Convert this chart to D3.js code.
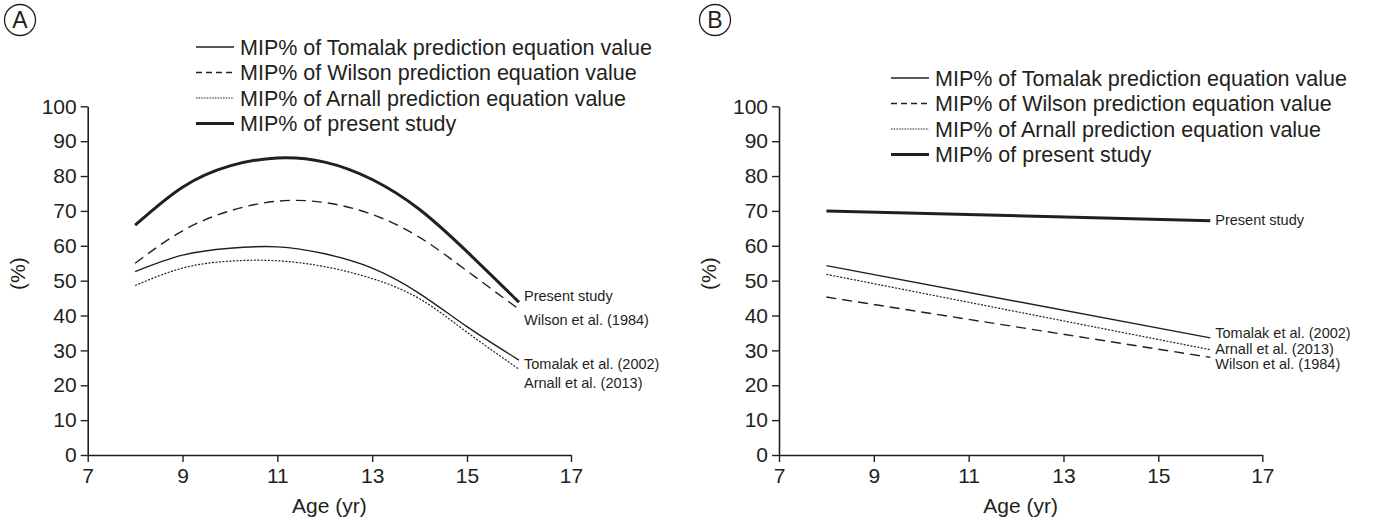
<!DOCTYPE html>
<html>
<head>
<meta charset="utf-8">
<script src="https://cdn.jsdelivr.net/npm/d3@7.9.0/dist/d3.min.js"></script>
<style>
  body { margin: 0; background: #fff; }
  svg text { font-family: "Liberation Sans", Arial, sans-serif; fill: #231f20; }
</style>
</head>
<body>
<svg id="chart" width="1378" height="526"></svg>
<script>
// ---- data ----
const agesA = [8, 9, 10, 11, 12, 13, 14, 15, 16];
const tomalakA = [52.6, 57.3, 59.3, 59.7, 57.7, 53.6, 46.3, 36.8, 27.2];
const wilsonA  = [55.0, 64.3, 70.0, 72.8, 72.4, 69.0, 62.4, 52.8, 41.8];
const arnallA  = [48.6, 53.6, 55.6, 55.7, 54.0, 50.6, 44.8, 35.2, 24.6];
const presentA = [65.9, 76.8, 82.9, 85.2, 84.0, 79.0, 70.4, 58.3, 43.8];

const agesB = [8, 16];
const tomalakB = [54.3, 33.6];
const wilsonB  = [45.3, 28.0];
const arnallB  = [51.8, 30.2];
const presentB = [70.0, 67.2];

const xTicks = [7, 9, 11, 13, 15, 17];
const yTicks = [0, 10, 20, 30, 40, 50, 60, 70, 80, 90, 100];

const legendNames = [
  "MIP% of Tomalak prediction equation value",
  "MIP% of Wilson prediction equation value",
  "MIP% of Arnall prediction equation value",
  "MIP% of present study"
];

// end-of-line labels: text + level (in % units) where the label sits
const labelsA = [
  { text: "Present study", at: 45.7 },
  { text: "Wilson et al. (1984)", at: 38.7 },
  { text: "Tomalak et al. (2002)", at: 26.1 },
  { text: "Arnall et al. (2013)", at: 20.6 }
];
const labelsB = [
  { text: "Present study", at: 67.4 },
  { text: "Tomalak et al. (2002)", at: 35.1 },
  { text: "Arnall et al. (2013)", at: 30.3 },
  { text: "Wilson et al. (1984)", at: 26.1 }
];

// line styles per series (tomalak, wilson, arnall, present)
const styles = [
  { width: 1.4, dash: null, legendDash: null },
  { width: 1.4, dash: "10,6", legendDash: "6,4" },
  { width: 1.2, dash: "2,1.5", legendDash: "1.5,1.2" },
  { width: 3, dash: null, legendDash: null }
];

const ink = "#231f20";
const svg = d3.select("#chart");

function drawPanel(opt) {
  const g = svg.append("g").attr("transform", `translate(${opt.left},0)`);

  const x = d3.scaleLinear().domain([7, 15, 17]).range([0, 379.3, 483.3]);
  const y = d3.scaleLinear().domain([0, 100]).range([455, 106.3]);

  // panel letter
  svg.append("circle")
    .attr("cx", opt.letterX).attr("cy", 20).attr("r", 15.5)
    .attr("fill", "none").attr("stroke", ink).attr("stroke-width", 1.3);
  svg.append("text")
    .attr("x", opt.letterX).attr("y", 20).attr("dy", "0.36em")
    .attr("text-anchor", "middle")
    .style("font-size", "23px")
    .text(opt.letter);

  // axes
  const xAxis = g.append("g")
    .attr("transform", `translate(0,${y(0)})`)
    .call(d3.axisBottom(x).tickValues(xTicks).tickSize(7).tickSizeOuter(0).tickPadding(6));
  const yAxis = g.append("g")
    .call(d3.axisLeft(y).tickValues(yTicks).tickSize(7).tickSizeOuter(0).tickPadding(4));

  [xAxis, yAxis].forEach(a => {
    a.select(".domain").attr("stroke", ink).attr("stroke-width", 1.6);
    a.selectAll(".tick line").attr("stroke", ink).attr("stroke-width", 1.4);
    a.selectAll(".tick text")
      .style("font-size", "21px")
      .attr("fill", ink)
      .style("font-family", '"Liberation Sans", Arial, sans-serif');
  });

  g.append("text")
    .attr("x", (x(7) + x(17)) / 2)
    .attr("y", 506)
    .attr("dy", "0.35em")
    .attr("text-anchor", "middle")
    .style("font-size", "21px")
    .text("Age (yr)");

  g.append("text")
    .attr("transform", `translate(${-opt.left + opt.yTitleX},${y(52)}) rotate(-90)`)
    .attr("text-anchor", "middle")
    .attr("dy", "0.35em")
    .style("font-size", "21px")
    .text("(%)");

  // series
  const line = d3.line()
    .x(d => x(d[0]))
    .y(d => y(d[1]))
    .curve(opt.curve);

  opt.series.forEach((vals, i) => {
    const st = styles[i];
    g.append("path")
      .datum(opt.ages.map((a, j) => [a, vals[j]]))
      .attr("fill", "none")
      .attr("stroke", ink)
      .attr("stroke-width", st.width)
      .attr("stroke-dasharray", st.dash)
      .attr("d", line);
  });

  // end labels
  g.selectAll(".end-label")
    .data(opt.labels)
    .join("text")
    .attr("class", "end-label")
    .attr("x", x(16) + 5)
    .attr("y", d => y(d.at))
    .attr("dy", "0.35em")
    .style("font-size", "14.5px")
    .text(d => d.text);

  // legend
  const legend = svg.append("g");
  legendNames.forEach((name, i) => {
    const ly = opt.legendY + i * 25.5;
    const st = styles[i];
    legend.append("line")
      .attr("x1", opt.legendX).attr("x2", opt.legendX + 38)
      .attr("y1", ly).attr("y2", ly)
      .attr("stroke", ink)
      .attr("stroke-width", st.width)
      .attr("stroke-dasharray", st.legendDash);
    legend.append("text")
      .attr("x", opt.legendX + 44)
      .attr("y", ly)
      .attr("dy", "0.35em")
      .style("font-size", "21.5px")
      .text(name);
  });
}

drawPanel({
  left: 87.7, letter: "A", letterX: 20, yTitleX: 18,
  ages: agesA, series: [tomalakA, wilsonA, arnallA, presentA],
  labels: labelsA, curve: d3.curveNatural,
  legendX: 196, legendY: 47
});

drawPanel({
  left: 779, letter: "B", letterX: 715, yTitleX: 709,
  ages: agesB, series: [tomalakB, wilsonB, arnallB, presentB],
  labels: labelsB, curve: d3.curveLinear,
  legendX: 891, legendY: 78
});
</script>
</body>
</html>
